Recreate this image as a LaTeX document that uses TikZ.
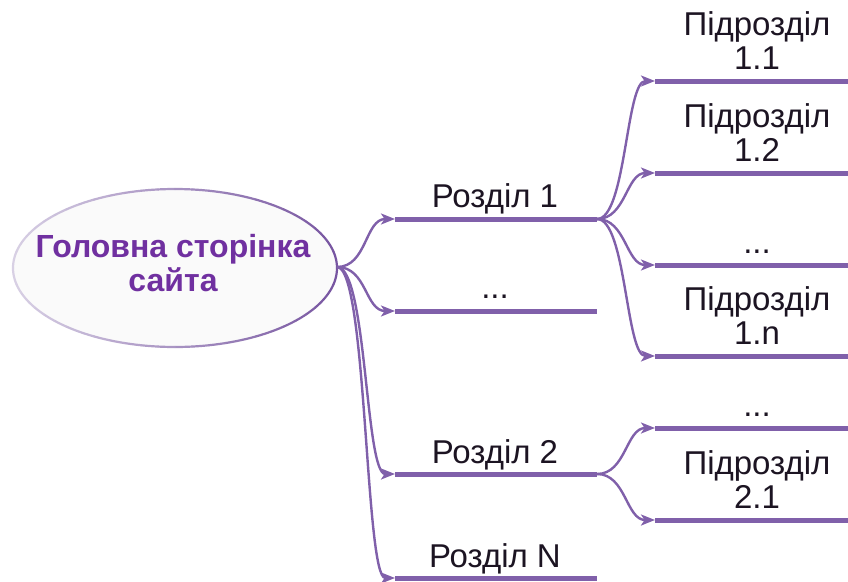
\documentclass[tikz,border=0pt]{standalone}
\usepackage{fontspec}
\setmainfont{Liberation Sans}
\usetikzlibrary{arrows.meta}
\definecolor{branch}{RGB}{128,96,170}
\definecolor{rimlight}{RGB}{216,208,228}
\definecolor{rimdark}{RGB}{118,84,160}
\definecolor{titlecol}{RGB}{112,48,160}
\definecolor{ink}{RGB}{28,20,34}
\tikzset{
  bar/.style={draw=branch, line width=5pt},
  link/.style={draw=branch, line width=2.4pt, -{Stealth[length=14pt,width=11pt,inset=3.5pt]}},
  lbl/.style={font=\fontsize{33}{34}\selectfont, text=ink, inner sep=0pt, anchor=base, align=center},
  sublbl/.style={font=\fontsize{33}{34}\selectfont, text=ink, inner sep=0pt, anchor=south, align=center, text depth=0pt},
}
\begin{document}
\begin{tikzpicture}[x=1pt,y=-1pt]
\useasboundingbox (0,0) rectangle (848,581);

% central topic: soft fill, then a rim shaded from light (left) to dark (right)
\fill[black!2] plot[domain=0:360, samples=90, smooth] ({175+162*cos(\x)},{268+79*sin(\x)}) -- cycle;
\foreach \a in {0,6,...,354}{
  \pgfmathtruncatemacro\m{50+50*cos(\a+3)}
  \draw[draw=rimdark!\m!rimlight, line width=2.2pt, line cap=round]
    plot[domain=\a:\a+6, samples=4] ({175+162*cos(\x)},{268+79*sin(\x)});
}
\node[font=\fontsize{32}{34}\selectfont\bfseries, text=titlecol, align=center, inner sep=0pt]
  (root) at (173,263) {Головна сторінка\\сайта};

% sections: start/end of the underline bars
\foreach \n/\y in {s1/219, sd/311, s2/474, sN/578}{
  \coordinate (\n-a) at (395,\y);
  \coordinate (\n-b) at (597,\y);
  \draw[bar] (\n-a) -- (\n-b);
}
\node[lbl] (t-s1) at (495,207) {Розділ 1};
\node[lbl] (t-sd) at (495,298) {...};
\node[lbl] (t-s2) at (495,463) {Розділ 2};
\node[lbl] (t-sN) at (495,567) {Розділ N};

% subsections
\foreach \n/\y in {p11/81, p12/173, p1d/265, p1n/356, p2d/428, p21/520}{
  \coordinate (\n-a) at (655,\y);
  \coordinate (\n-b) at (848,\y);
  \draw[bar] (\n-a) -- (\n-b);
}
\node[sublbl] (t-p11) at (757,70) {Підрозділ\\1.1};
\node[sublbl] (t-p12) at (757,162) {Підрозділ\\1.2};
\node[lbl] (t-p1d) at (757,253) {...};
\node[sublbl] (t-p1n) at (757,345) {Підрозділ\\1.n};
\node[lbl] (t-p2d) at (757,416) {...};
\node[sublbl] (t-p21) at (757,509) {Підрозділ\\2.1};

% connectors from the central topic
\coordinate (hub) at (337,267);
\foreach \n in {s1, sd, s2, sN}
  \draw[link] (hub) .. controls +(30,0) and +(-30,0) .. (\n-a);

% connectors from section 1 and section 2
\foreach \n in {p11, p12, p1d, p1n}
  \draw[link] (s1-b) .. controls +(29,0) and +(-29,0) .. (\n-a);
\foreach \n in {p2d, p21}
  \draw[link] (s2-b) .. controls +(29,0) and +(-29,0) .. (\n-a);
\end{tikzpicture}
\end{document}
